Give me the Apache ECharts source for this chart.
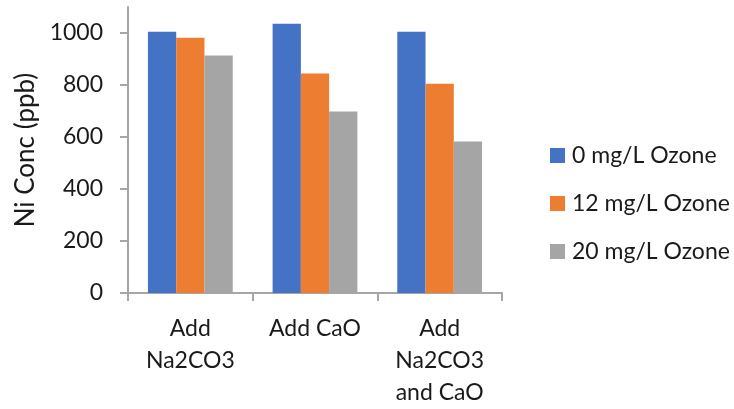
<!DOCTYPE html>
<html>
<head>
<meta charset="utf-8">
<script src="https://cdn.jsdelivr.net/npm/echarts@6/dist/echarts.min.js"></script>
<style>
  html, body { margin: 0; padding: 0; background: #fff; }
  #chart { width: 734px; height: 409px; }
</style>
</head>
<body>
<div id="chart"></div>
<script>
// Treatment groups along the x axis
const categories = ['Add\nNa2CO3', 'Add CaO', 'Add\nNa2CO3\nand CaO'];

// Ni concentration (ppb) at each ozone dose
const seriesNames = ['0 mg/L Ozone', '12 mg/L Ozone', '20 mg/L Ozone'];
const ozone0 = [1005, 1036, 1005];
const ozone12 = [982, 844, 805];
const ozone20 = [913, 698, 583];

// Labelled y ticks
const yTicks = [0, 200, 400, 600, 800, 1000];

const colors = ['#4472C4', '#ED7D31', '#A5A5A5'];
const font = 'Lato, "Open Sans", sans-serif';
const textColor = '#1a1a1a';
const axisGray = '#a6a6a6';

const chart = echarts.init(document.getElementById('chart'), null, { renderer: 'canvas' });

chart.setOption({
  animation: false,
  color: colors,
  grid: { left: 128, right: 232, top: 7, bottom: 116, containLabel: false },
  legend: {
    orient: 'vertical',
    left: 545,
    top: 139,
    itemWidth: 15,
    itemHeight: 15,
    itemGap: 25,
    icon: 'rect',
    textStyle: { fontFamily: font, fontSize: 23, color: textColor, padding: [0, 0, 0, 2] },
    data: seriesNames
  },
  xAxis: {
    type: 'category',
    data: categories,
    axisLine: { show: true, lineStyle: { color: axisGray, width: 2 } },
    axisTick: { show: true, length: 8, lineStyle: { color: axisGray, width: 2 } },
    axisLabel: {
      fontFamily: font, fontSize: 23, color: textColor,
      margin: 20, lineHeight: 32
    }
  },
  yAxis: {
    type: 'value',
    min: 0,
    max: 1100,
    interval: 100,
    name: 'Ni Conc (ppb)',
    nameLocation: 'middle',
    nameGap: 86,
    nameRotate: 90,
    nameTextStyle: { fontFamily: font, fontSize: 26, color: textColor },
    axisLine: { show: true, lineStyle: { color: axisGray, width: 2 } },
    axisTick: { show: true, length: 8, customValues: yTicks, lineStyle: { color: axisGray, width: 2 } },
    axisLabel: {
      fontFamily: font, fontSize: 23, color: textColor, margin: 25,
      customValues: yTicks,
      formatter: (v) => String(v)
    },
    splitLine: { show: false }
  },
  series: [
    { name: seriesNames[0], type: 'bar', data: ozone0, barGap: '0%', barCategoryGap: '32%' },
    { name: seriesNames[1], type: 'bar', data: ozone12, barGap: '0%', barCategoryGap: '32%' },
    { name: seriesNames[2], type: 'bar', data: ozone20, barGap: '0%', barCategoryGap: '32%' }
  ]
});
</script>
</body>
</html>
